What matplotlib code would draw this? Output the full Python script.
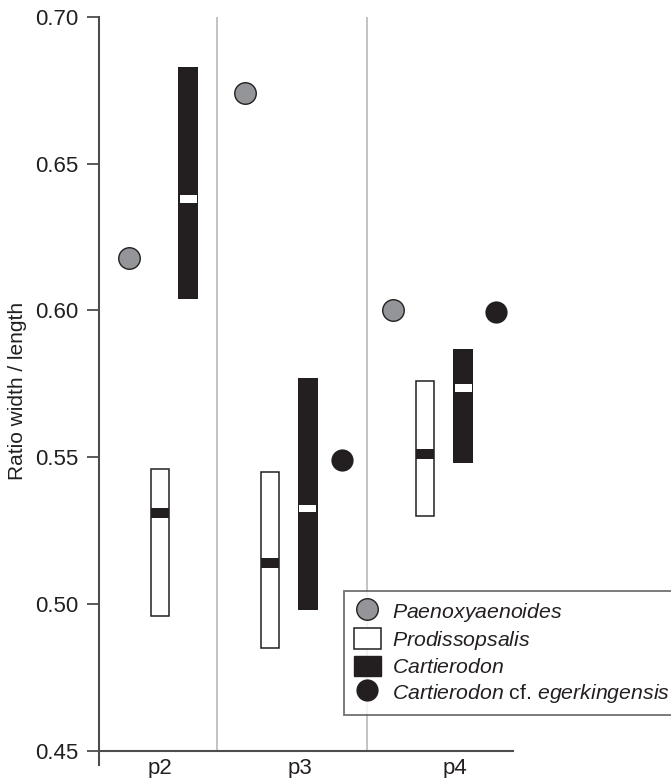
import numpy as np
import matplotlib
matplotlib.use("Agg")
import matplotlib.pyplot as plt
from matplotlib.lines import Line2D
from matplotlib.patches import Patch

plt.rcParams['font.family'] = ['Liberation Sans', 'DejaVu Sans']
plt.rcParams['mathtext.fontset'] = 'custom'
plt.rcParams['mathtext.it'] = 'Liberation Sans:italic'
plt.rcParams['mathtext.rm'] = 'Liberation Sans'

# data
groups = ['p2', 'p3', 'p4']
paeno = [0.618, 0.674, 0.600]
prodis_min = [0.496, 0.485, 0.530]
prodis_max = [0.546, 0.545, 0.576]
prodis_mean = [0.531, 0.514, 0.551]
cart_min = [0.604, 0.498, 0.548]
cart_max = [0.683, 0.577, 0.587]
cart_mean = [0.638, 0.5325, 0.5735]
egerk = [np.nan, 0.549, 0.5995]

# layout (x positions along the axis, arbitrary units)
group_x = [61, 201, 356]
paeno_x = [30, 146, 294]
prodis_x = [61, 171, 326]
cart_x = [89, 208.5, 364]
egerk_x = [np.nan, 243, 397]
dividers = [118, 268]

dark = '#231f20'
grey = '#939598'
axcol = '#4d4d4d'

fig = plt.figure(figsize=(6.71, 7.78), dpi=100)
ax = fig.add_axes([99/671, 1 - 765/778, (513 - 99)/671, (765 - 17)/778])
ax.set_xlim(0, 414)
ax.set_ylim(0.4451, 0.70)

for d in dividers:
    ax.plot([d, d], [0.45, 0.70], color='#b3b3b3', lw=1.1, zorder=1)
ax.plot([0, 414], [0.45, 0.45], color=axcol, lw=1.5, zorder=2, clip_on=False)

# Prodissopsalis ranges
pmin = np.array(prodis_min)
pmax = np.array(prodis_max)
ax.bar(prodis_x, pmax - pmin, bottom=pmin, width=18, color='white',
       edgecolor=dark, lw=1.1, zorder=3)
ax.bar(prodis_x, 0.0034, bottom=np.array(prodis_mean) - 0.0017, width=18,
       color=dark, lw=0, zorder=4)

# Cartierodon ranges
cmin = np.array(cart_min)
cmax = np.array(cart_max)
ax.bar(cart_x, cmax - cmin, bottom=cmin, width=20, color=dark, lw=0, zorder=3)
ax.bar(cart_x, 0.0026, bottom=np.array(cart_mean) - 0.0013, width=17,
       color='white', lw=0, zorder=4)

ax.plot(paeno_x, paeno, 'o', ms=15.5, mfc=grey, mec=dark, mew=1.0,
        ls='none', zorder=5)
ax.plot(egerk_x, egerk, 'o', ms=16, mfc=dark, mec=dark, mew=0,
        ls='none', zorder=5)

for sp in ['top', 'right', 'bottom']:
    ax.spines[sp].set_visible(False)
ax.spines['left'].set_color(axcol)
ax.spines['left'].set_linewidth(1.5)
ax.set_yticks([0.45, 0.50, 0.55, 0.60, 0.65, 0.70])
ax.set_yticklabels(['0.45', '0.50', '0.55', '0.60', '0.65', '0.70'])
ax.tick_params(axis='y', length=9, width=1.3, color=axcol, pad=6,
               labelsize=16, labelcolor=dark)
ax.set_xticks([])
for g, x in zip(groups, group_x):
    ax.annotate(g, (x, 0.45), xytext=(0, -5), textcoords='offset points',
                ha='center', va='top', fontsize=16, color=dark,
                annotation_clip=False)

ax.set_ylabel('Ratio width / length', fontsize=15, color=dark, labelpad=6)

handles = [
    Line2D([], [], marker='o', ls='none', ms=15.5, mfc=grey, mec=dark, mew=1.0),
    Patch(facecolor='white', edgecolor=dark, lw=1.1),
    Patch(facecolor=dark, edgecolor=dark),
    Line2D([], [], marker='o', ls='none', ms=16, mfc=dark, mec=dark, mew=0),
]
labels = [r'$\it{Paenoxyaenoides}$', r'$\it{Prodissopsalis}$',
          r'$\it{Cartierodon}$', r'$\it{Cartierodon}$ cf. $\it{egerkingensis}$']
leg = fig.legend(handles, labels, loc='upper left',
                 bbox_to_anchor=(344/671, 1 - 591/778), fontsize=15.3,
                 frameon=True, fancybox=False, handlelength=1.3,
                 handleheight=1.1, handletextpad=0.5, borderpad=0.45,
                 labelspacing=0.2, borderaxespad=0, labelcolor=dark)
leg.get_frame().set_edgecolor(axcol)
leg.get_frame().set_linewidth(1.3)

fig.savefig('out.png', dpi=100)
